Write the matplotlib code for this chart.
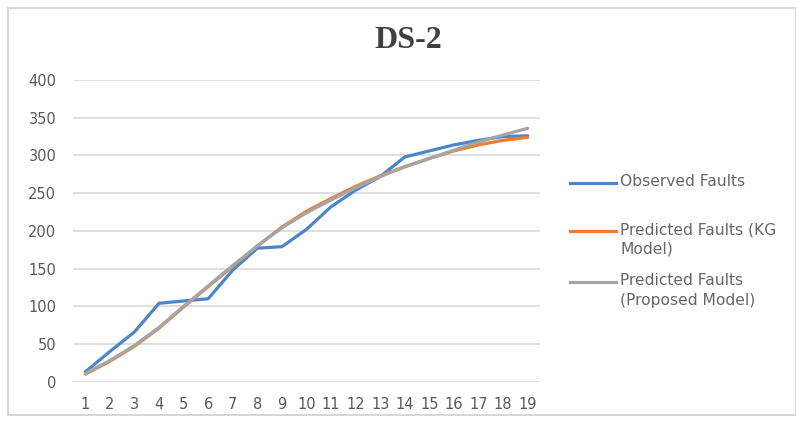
import matplotlib
matplotlib.use("Agg")
import matplotlib.pyplot as plt
from matplotlib.patches import Rectangle
from matplotlib.lines import Line2D

categories = [str(i) for i in range(1, 20)]
observed = [13, 40, 66, 104, 107, 110, 148, 177, 179, 202, 232, 254, 272, 298, 306, 314, 320, 325, 326]
kg_model = [10, 27, 47, 71, 99, 126, 153, 180, 205, 226, 243, 259, 273, 285, 296, 306, 314, 320, 324]
proposed = [11, 28, 48, 72, 100, 127, 154, 180, 204, 224, 241, 257, 272, 285, 296, 307, 318, 327, 336]
yticks = [0, 50, 100, 150, 200, 250, 300, 350, 400]
labels = ["Observed Faults", "Predicted Faults (KG\nModel)", "Predicted Faults\n(Proposed Model)"]
colors = ["#4A86C8", "#ED7D31", "#A5A5A5"]

W, H = 796, 421
fig = plt.figure(figsize=(W / 100, H / 100), dpi=100)
fig.patch.set_facecolor("white")
fig.patches.append(Rectangle((8 / W, 6 / H), (W - 8) / W, (H - 14) / H, transform=fig.transFigure,
                             fill=False, edgecolor="#d0d0d0", linewidth=1.2))

ax = fig.add_axes([73 / W, 1 - 381.7 / H, (540 - 73) / W, (381.7 - 80) / H])
x = list(range(len(categories)))
text_color = "#595959"
for series, c in zip([observed, kg_model, proposed], colors):
    ax.plot(x, series, color=c, lw=2.3, solid_capstyle="round", solid_joinstyle="round")

ax.set_xlim(-0.5, len(categories) - 0.5)
ax.set_ylim(0, 400)
ax.set_yticks(yticks)
ax.set_xticks(x)
ax.set_xticklabels(categories)
ax.grid(axis="y", color="#d9d9d9", lw=1.2)
ax.set_axisbelow(True)
for s in ax.spines.values():
    s.set_visible(False)
ax.tick_params(axis="both", length=0, labelsize=10.5, colors=text_color, labelfontfamily="DejaVu Sans")
ax.tick_params(axis="y", pad=12)
ax.tick_params(axis="x", pad=11)

fig.text(408 / W, 1 - 41 / H, "DS-2", ha="center", va="center", fontsize=23, fontweight="bold",
         family="Liberation Serif", color="#404040")

# legend, drawn by hand so the handle lines up with the first text line
legend_y = [183, 231, 282]
for lab, c, yy in zip(labels, colors, legend_y):
    fy = 1 - yy / H
    fig.lines.append(Line2D([570 / W, 616 / W], [fy, fy], transform=fig.transFigure, color=c, lw=2.3))
    fig.text(620 / W, fy + 9 / H, lab, ha="left", va="top", fontsize=11.2, family="DejaVu Sans",
             color="#666666", linespacing=1.4)

fig.savefig("out.png", dpi=100)
